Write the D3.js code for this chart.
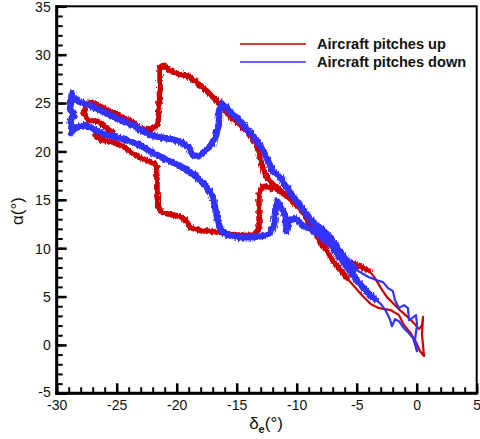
<!DOCTYPE html>
<html><head><meta charset="utf-8">
<script src="https://cdn.jsdelivr.net/npm/d3@7/dist/d3.min.js"></script>
<style>body{margin:0;background:#fff}svg{display:block}text{font-family:"Liberation Sans",Arial,sans-serif}</style>
</head><body><svg id="c" width="480" height="439"></svg>
<script>
// ---- data ----
const xTicks = [-30,-25,-20,-15,-10,-5,0,5];
const yTicks = [-5,0,5,10,15,20,25,30,35];
const seriesNames = ["Aircraft pitches up","Aircraft pitches down"];
const seriesColors = ["#cc0000","#3333ff"];

// Aircraft pitches up (δe, α) — noisy main loop
const redUpBody = [
[-5.81,6.9],[-6.39,7.83],[-6.98,8.66],[-7.48,9.69],[-7.89,10.41],[-8.39,11.34],[-8.89,12.38],[-9.39,13.51],
[-9.89,14.44],[-10.56,15.17],[-11.23,15.79],[-11.81,16.51],[-12.39,17.13],[-12.73,17.96],[-12.98,19.0],
[-13.23,20.23],[-13.48,21.06],[-14.06,21.99],[-14.73,22.72],[-15.39,23.44],[-16.06,24.37],[-16.81,25.4],
[-17.56,26.33],[-18.31,27.16],[-19.06,27.78],[-19.81,27.99],[-20.48,28.3],[-21.14,28.9],[-21.39,28.7],
[-21.39,26.9],[-21.48,24.86],[-21.56,22.8],[-22.23,22.2],[-23.06,22.4],[-23.73,23.1],[-24.56,23.54],
[-25.39,24.07],[-26.39,24.68],[-27.06,25.1],[-27.56,24.9],[-27.73,23.85],[-27.31,23.2],[-26.56,23.1],
[-25.89,22.5],[-25.31,21.99],[-26.06,21.68],[-26.81,21.68],[-26.23,21.16],[-25.23,20.95],[-24.48,20.54],
[-24.06,20.13],[-23.31,19.5],[-22.39,19.0],[-21.73,18.7],[-21.64,17.35],[-21.64,15.6],[-21.56,14.33],
[-21.23,13.7],[-20.56,13.5],[-19.73,13.28],[-19.23,12.87],[-18.89,12.14],[-18.06,11.83],[-17.06,11.73],
[-16.06,11.6],[-15.06,11.4],[-14.06,11.3],[-13.48,11.4],[-13.14,12.1],[-13.14,13.8],[-13.14,15.6],
[-12.81,16.4],[-12.23,16.3],[-11.64,16.1],[-11.06,15.57],[-10.39,14.95],[-9.81,14.22],[-9.23,13.6],
[-8.81,12.9],[-8.23,12.06],[-7.73,10.93],[-7.06,10.1],[-6.31,9.17],[-5.48,8.45],[-4.64,8.1],[-3.98,7.7]
];
// Aircraft pitches up — thin tip near δe = 0
const redUpTip = [
[-3.98,7.7],[-3.48,6.9],[-2.98,5.87],[-2.48,4.94],[-1.89,4.21],[-1.31,3.49],[-0.73,2.87],[-0.23,2.25],
[0.19,1.63],[0.44,2.04],[0.53,2.9],[0.44,1.1],[0.61,-1.15],[0.28,-0.65],[-0.06,0.28],[-0.56,1.32],
[-1.06,2.04],[-1.48,3.08],[-2.14,3.59],[-3.14,3.8],[-3.81,4.21],[-4.48,5.04],[-5.14,5.97],[-5.81,6.9]
];
// Aircraft pitches down — thin tip near δe = 0
const blueDownTip = [
[0.03,-0.65],[-0.14,0.59],[0.03,2.04],[-0.06,3.07],[-0.39,2.76],[-0.64,2.56],[-0.73,3.8],[-1.06,4.11],
[-1.48,3.8],[-1.81,4.62],[-1.98,5.56],[-2.39,5.87],[-2.81,6.49],[-3.31,6.69],[-3.98,7.0],[-4.56,7.41],
[-5.14,7.83]
];
// Aircraft pitches down — noisy main loop
const blueDownBody = [
[-5.14,7.83],[-5.73,8.66],[-6.23,9.38],[-6.73,10.31],[-7.31,11.24],[-8.06,12.07],[-8.73,12.79],[-9.31,13.72],
[-9.73,14.44],[-10.31,15.37],[-10.89,16.41],[-11.39,17.34],[-11.98,17.96],[-12.39,19.0],[-12.73,20.03],
[-13.23,20.96],[-13.89,21.99],[-14.48,22.82],[-15.14,23.65],[-15.73,24.37],[-16.23,25.0],[-16.48,24.17],
[-16.48,22.93],[-16.73,21.58],[-17.06,20.75],[-17.56,20.13],[-18.14,19.5],[-18.64,19.6],[-18.98,20.44],
[-19.64,20.96],[-20.48,21.27],[-21.39,21.47],[-22.23,21.68],[-22.98,22.2],[-23.64,22.72],[-24.31,23.03],
[-25.06,23.44],[-25.73,23.85],[-26.56,24.37],[-27.31,24.79],[-28.06,25.1],[-28.56,25.4],[-28.73,26.03],
[-28.81,25.2],[-28.89,24.37],[-28.56,23.85],[-28.89,23.13],[-28.64,22.5],[-28.81,21.9],[-28.31,22.5],
[-27.64,22.72],[-26.89,22.3],[-26.06,21.78],[-25.06,21.47],[-24.14,21.16],[-23.31,20.75],[-22.48,20.23],
[-21.73,19.7],[-20.89,19.2],[-20.06,18.68],[-19.23,18.16],[-18.39,17.44],[-17.64,16.51],[-17.14,15.68],
[-16.89,14.75],[-16.73,13.72],[-16.56,12.69],[-16.31,11.86],[-15.64,11.34],[-14.73,11.14],[-13.81,11.14],
[-12.98,11.24],[-12.31,11.45],[-11.89,12.27],[-11.81,13.62],[-11.64,14.86],[-11.23,14.13],[-10.89,13.0],
[-10.89,11.76],[-10.64,12.79],[-10.14,13.1],[-9.48,12.38],[-8.73,11.86],[-7.89,11.14],[-7.14,10.31],
[-6.56,9.28],[-5.98,8.35],[-5.39,7.31],[-4.73,6.28],[-4.06,5.35],[-3.48,4.73]
];
const blueDownTip2 = [
[-3.48,4.73],[-2.98,4.21],[-2.56,3.49],[-2.23,2.66],[-2.06,1.94],[-1.81,2.66],[-1.48,2.45],[-1.14,1.83],
[-0.73,1.32],[-0.31,0.7],[0.03,-0.65]
];

// ---- chart ----
const svg = d3.select("#c");
const L = 56.7, R = 476.7, T = 6.3, B = 393.3;
const x = d3.scaleLinear().domain([-30,5]).range([L,R]);
const y = d3.scaleLinear().domain([-5,35]).range([B,T]);
const line = d3.line().x(d=>x(d[0])).y(d=>y(d[1]));

// rendering filter that roughens the edges of the thick (noisy) traces
const defs = svg.append("defs");
const f = defs.append("filter").attr("id","rough").attr("x","-5%").attr("y","-5%").attr("width","110%").attr("height","110%");
f.append("feTurbulence").attr("type","fractalNoise").attr("baseFrequency","0.6 0.2").attr("numOctaves",2).attr("seed",5).attr("result","n");
f.append("feDisplacementMap").attr("in","SourceGraphic").attr("in2","n").attr("scale",5)
  .attr("xChannelSelector","R").attr("yChannelSelector","G");

const plot = svg.append("g");
function draw(data,color,w,rough){
  const d = line(data);
  if(rough){
    plot.append("path").attr("d",d).attr("fill","none").attr("stroke",color)
      .attr("stroke-width",w).attr("stroke-linejoin","round").attr("stroke-linecap","round")
      .attr("filter","url(#rough)");
    plot.append("path").attr("d",d).attr("fill","none").attr("stroke",color)
      .attr("stroke-width",w-1.5).attr("stroke-linejoin","round").attr("stroke-linecap","round");
  } else {
    plot.append("path").attr("d",d).attr("fill","none").attr("stroke",color)
      .attr("stroke-width",w).attr("stroke-linejoin","round").attr("stroke-linecap","round");
  }
}
draw(redUpBody,seriesColors[0],5.5,true);
draw(redUpTip,seriesColors[0],2.2,false);
draw(blueDownBody,seriesColors[1],6.5,true);
draw(blueDownTip,seriesColors[1],2.2,false);
draw(blueDownTip2,seriesColors[1],2.2,false);

// axes
const fmt = d => String(d);
const xMinor = d3.range(-30,5.01,1), yMinor = d3.range(-5,35.01,1);
const axX = svg.append("g").attr("transform",`translate(0,${B})`)
  .call(d3.axisBottom(x).tickValues(xTicks).tickSizeInner(-10).tickSizeOuter(0).tickPadding(6).tickFormat(fmt));
svg.append("g").attr("transform",`translate(0,${B})`)
  .call(d3.axisBottom(x).tickValues(xMinor).tickSizeInner(-6).tickSizeOuter(0).tickFormat(""));
const axY = svg.append("g").attr("transform",`translate(${L},0)`)
  .call(d3.axisLeft(y).tickValues(yTicks).tickSizeInner(-10).tickSizeOuter(0).tickPadding(6).tickFormat(fmt));
svg.append("g").attr("transform",`translate(${L},0)`)
  .call(d3.axisLeft(y).tickValues(yMinor).tickSizeInner(-6).tickSizeOuter(0).tickFormat(""));
svg.selectAll(".domain").remove();
svg.selectAll(".tick line").attr("stroke","#000").attr("stroke-width",2);
axX.selectAll(".tick line").attr("stroke-width",2.5);
axY.selectAll(".tick line").attr("stroke-width",2.5);
svg.selectAll(".tick text").attr("font-size",14).attr("fill","#111").attr("font-family","Liberation Sans, Arial, sans-serif");
axX.selectAll(".tick text").attr("dy","0.75em");
axY.selectAll(".tick text").attr("dy","0.35em");
axY.selectAll(".tick text").filter(d=>d===-5).attr("dy","0.2em");

// frame
svg.append("rect").attr("x",L).attr("y",T).attr("width",R-L).attr("height",B-T)
  .attr("fill","none").attr("stroke","#000").attr("stroke-width",2);
svg.append("line").attr("x1",L).attr("x2",L).attr("y1",T-1).attr("y2",B+1.5).attr("stroke","#000").attr("stroke-width",3);
svg.append("line").attr("x1",L-1.5).attr("x2",R+1).attr("y1",B).attr("y2",B).attr("stroke","#000").attr("stroke-width",3);

// legend
const leg = svg.append("g");
seriesNames.forEach((n,i)=>{
  const yy = 44 + i*18;
  leg.append("line").attr("x1",240).attr("x2",306).attr("y1",yy).attr("y2",yy)
    .attr("stroke",seriesColors[i]).attr("stroke-width",1.5);
  leg.append("text").attr("x",317).attr("y",yy).attr("dy","0.36em").attr("font-size",14.6)
    .attr("font-weight","bold").attr("fill","#111").text(n);
});

// axis titles
const yl = svg.append("text").attr("transform","translate(23,211) rotate(-90)")
  .attr("text-anchor","middle").attr("font-size",17).attr("fill","#111");
yl.append("tspan").text("α(°)");
const xl = svg.append("text").attr("x",266).attr("y",429).attr("text-anchor","middle")
  .attr("font-size",17).attr("fill","#111");
xl.append("tspan").text("δ");
xl.append("tspan").attr("font-size",11).attr("font-weight","bold").attr("dy",4).text("e");
xl.append("tspan").attr("dy",-4).text("(°)");
</script></body></html>
